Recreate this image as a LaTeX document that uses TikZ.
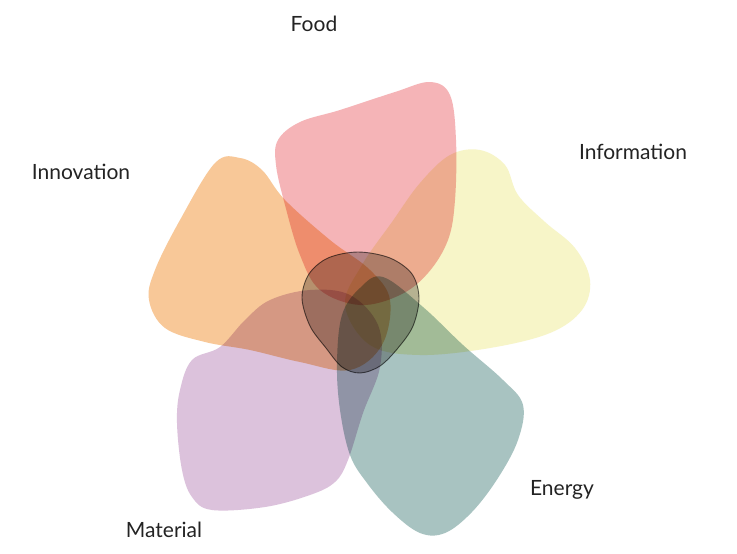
\documentclass[tikz,border=0pt]{standalone}
\usepackage{fontspec}
\setmainfont{Lato}
\definecolor{cfood}{RGB}{245,180,183}
\definecolor{cinno}{RGB}{248,200,152}
\definecolor{cinfo}{RGB}{247,245,200}
\definecolor{cmat}{RGB}{220,194,220}
\definecolor{cener}{RGB}{168,195,193}
\definecolor{ccore}{RGB}{188,186,186}
\definecolor{ccoreline}{RGB}{105,105,105}
\definecolor{ctext}{RGB}{35,35,35}
\begin{document}
\begin{tikzpicture}[x=1pt,y=-1pt,
  petal/.style={blend mode=multiply},
  lab/.style={text=ctext,font=\fontsize{21}{25}\selectfont,inner sep=0pt}]
\useasboundingbox (0,0) rectangle (737,554);
\fill[white] (0,0) rectangle (737,554);
% Food
\fill[petal,cfood] plot[smooth cycle,tension=0.6] coordinates {
 (278,140) (300,122) (340,110) (395,92) (430,82) (450,95) (456,140) (455,200)
 (448,240) (428,273) (400,295) (360,305) (320,290) (300,255) (285,205) (276,165)};
% Innovation
\fill[petal,cinno] plot[smooth cycle,tension=0.6] coordinates {
 (215,163) (240,158) (262,170) (285,200) (330,240) (370,270) (390,300) (382,345)
 (350,370) (300,362) (250,350) (205,342) (165,328) (149,300) (155,270) (180,220)};
% Information
\fill[petal,cinfo] plot[smooth cycle,tension=0.6] coordinates {
 (345,305) (362,265) (392,222) (420,183) (450,155) (480,150) (505,165) (518,195)
 (545,222) (575,248) (590,280) (582,310) (550,333) (490,348) (420,355) (370,345)};
% Energy
\fill[petal,cener] plot[smooth cycle,tension=0.6] coordinates {
 (383,277) (423,307) (463,345) (503,380) (523,405) (518,440) (498,478) (472,512)
 (445,533) (420,533) (392,512) (367,483) (350,455) (340,410) (337,363) (342,315)
 (360,288)};
% Material
\fill[petal,cmat] plot[smooth cycle,tension=0.6] coordinates {
 (192,360) (220,347) (245,320) (270,300) (310,290) (350,295) (378,325) (380,367)
 (363,413) (348,460) (335,482) (310,495) (265,507) (212,510) (192,497) (182,470)
 (177,423) (180,390)};
% core
\filldraw[petal,fill=ccore,draw=ccoreline,line width=0.9pt] plot[smooth cycle,tension=0.55] coordinates {
 (302,298) (310,326) (326,348) (342,367) (360,373) (380,366) (398,348)
 (413,326) (419,298) (412,274) (390,258) (358,252) (328,258) (309,274)};
% labels
\node[lab] (food) at (314,24) {Food};
\node[lab] (inno) at (81,172) {Innovation};
\node[lab] (info) at (633,152) {Information};
\node[lab] (ener) at (562,490) {Energy};
\node[lab] (mat) at (164,530) {Material};
\end{tikzpicture}
\end{document}
